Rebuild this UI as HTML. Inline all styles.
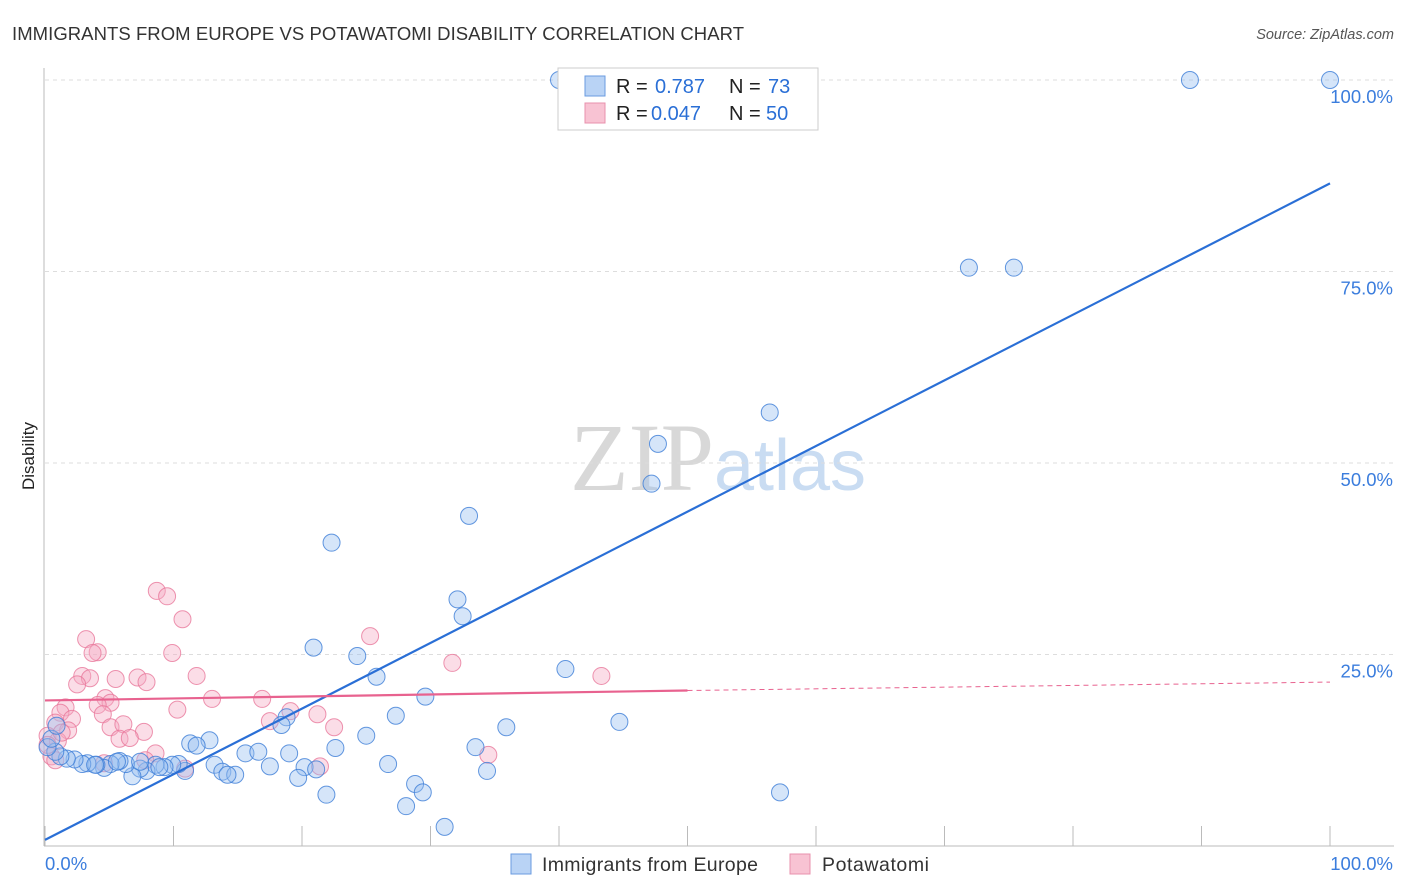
<!DOCTYPE html>
<html><head><meta charset="utf-8"><style>
body{margin:0;background:#fff;font-family:"Liberation Sans",sans-serif;}
svg{display:block}
</style></head><body>
<svg id="chart" width="1406" height="892">
<text x="12" y="40" font-size="18.5" fill="#333" textLength="732">IMMIGRANTS FROM EUROPE VS POTAWATOMI DISABILITY CORRELATION CHART</text>
<text x="1394" y="39" font-size="14.5" fill="#555" font-style="italic" text-anchor="end">Source: ZipAtlas.com</text>
<text x="34" y="456" font-size="17" fill="#222" text-anchor="middle" transform="rotate(-90 34 456)">Disability</text>
<text x="718" y="490" font-size="96" fill="#ddd" text-anchor="middle" font-family="Liberation Serif,serif"><tspan fill="#d8d8d8">ZIP</tspan><tspan fill="#c9dcf2" font-family="Liberation Sans,sans-serif" font-size="72">atlas</tspan></text>
<g id="grid"></g><g id="pts"></g><g id="lines"></g>
<g>
<rect x="558" y="68" width="260" height="62" fill="#fff" stroke="#ccc"/>
<rect x="585" y="76" width="20" height="20" fill="#b9d3f5" stroke="#6a9be0"/>
<rect x="585" y="103" width="20" height="20" fill="#f8c3d3" stroke="#e890ac"/>
<text x="616" y="93" font-size="20" fill="#222">R =</text><text x="655" y="93" font-size="20" fill="#2a6fd6">0.787</text>
<text x="729" y="93" font-size="20" fill="#222">N =</text><text x="768" y="93" font-size="20" fill="#2a6fd6">73</text>
<text x="616" y="120" font-size="20" fill="#222">R =</text><text x="651" y="120" font-size="20" fill="#2a6fd6">0.047</text>
<text x="729" y="120" font-size="20" fill="#222">N =</text><text x="766" y="120" font-size="20" fill="#2a6fd6">50</text>
</g>
<g>
<rect x="511" y="854" width="20" height="20" fill="#b9d3f5" stroke="#6a9be0"/>
<text x="542" y="871" font-size="19.5" fill="#333" textLength="216">Immigrants from Europe</text>
<rect x="790" y="854" width="20" height="20" fill="#f8c3d3" stroke="#e890ac"/>
<text x="822" y="871" font-size="19.5" fill="#333" textLength="107">Potawatomi</text>
</g>
</svg>
<script>
const yTicks=[25,50,75,100];
const xTickLabels=["0.0%","100.0%"];
const blueX=[40.0,89.1,100,71.9,75.4,56.4,47.7,47.2,33.0,22.3,32.1,32.5,20.9,24.3,40.5,25.8,29.6,27.3,18.8,18.4,44.7,35.9,25.0,33.5,22.6,12.8,11.3,11.8,15.6,16.6,19.0,26.7,34.4,20.2,21.1,17.5,13.2,13.8,14.8,14.2,10.9,10.4,9.9,9.3,8.6,7.9,7.4,6.8,6.3,5.8,5.1,4.6,4.0,3.3,2.9,2.3,1.7,1.2,0.8,0.2,0.5,0.9,19.7,28.8,29.4,21.9,28.1,31.1,57.2,3.9,8.9,5.6,7.4];
const blueY=[100,100,100,75.5,75.5,56.6,52.5,47.3,43.1,39.6,32.2,30.0,25.9,24.8,23.1,22.1,19.5,17.0,16.8,15.8,16.2,15.5,14.4,12.9,12.8,13.8,13.4,13.1,12.1,12.3,12.1,10.7,9.8,10.3,10.0,10.4,10.6,9.7,9.3,9.3,9.8,10.7,10.6,10.3,10.6,9.8,10.1,9.1,10.7,11.1,10.7,10.2,10.6,10.8,10.7,11.3,11.4,11.7,12.3,12.9,14.0,15.7,8.9,8.1,7.0,6.7,5.2,2.5,7.0,10.6,10.3,11.0,11.0];
const pinkX=[8.7,9.5,10.7,3.2,4.1,3.7,9.9,25.3,31.7,43.3,11.8,7.2,7.9,5.5,2.9,3.5,2.5,13.0,4.7,5.1,4.1,1.6,1.2,2.1,4.5,10.3,0.8,1.8,5.1,6.1,19.1,17.5,21.2,22.5,7.7,5.8,6.6,8.6,0.2,1.0,0.5,34.5,21.4,10.9,7.8,4.6,0.8,0.2,1.3,16.9];
const pinkY=[33.3,32.6,29.6,27.0,25.3,25.2,25.2,27.4,23.9,22.2,22.2,22.0,21.4,21.8,22.2,21.9,21.1,19.2,19.3,18.7,18.4,18.1,17.4,16.6,17.2,17.8,16.1,15.1,15.5,15.9,17.6,16.3,17.2,15.5,14.9,14.0,14.1,12.1,14.4,13.7,11.7,11.9,10.4,10.1,11.2,10.8,11.2,13.2,14.8,19.2];
const blueFit=[0.8,86.5];
const pinkFit=[19.0,20.3,21.4];
const X0=45,X1=1330,Y0=846,Y100=80;
const sx=v=>X0+(X1-X0)*v/100, sy=v=>Y0-(Y0-Y100)*v/100;
const NS="http://www.w3.org/2000/svg";
function mk(p,t,a){const e=document.createElementNS(NS,t);for(const k in a)e.setAttribute(k,a[k]);p.appendChild(e);return e;}
const g=document.getElementById('grid');
let ax=mk(g,'line',{x1:44,y1:68,x2:44,y2:846,stroke:'#bbb'});


let bx=mk(g,'line',{x1:44,y1:846,x2:1394,y2:846,stroke:'#bbb'});


yTicks.forEach(t=>{
 let l=mk(g,'line',{x1:45,x2:1394,y1:sy(t),y2:sy(t),stroke:'#ddd','stroke-dasharray':'4,4'});
 
 
 let tx=mk(g,'text',{x:1393,y:sy(t)+23,'font-size':18.5,fill:'#3b7ddd','text-anchor':'end'});tx.textContent=t.toFixed(1)+'%';
 
 
});
for(let i=0;i<=10;i++){let l=mk(g,'line',{x1:sx(i*10),x2:sx(i*10),y1:826,y2:846,stroke:'#bbb'});
 
 }
[[0,'start',45],[100,'end',1393]].forEach((d,i)=>{let t=mk(g,'text',{x:d[2],y:870,'font-size':18.5,fill:'#3b7ddd','text-anchor':d[1]});t.textContent=xTickLabels[i];
 
 });
const P=document.getElementById('pts');
pinkX.forEach((x,i)=>{let c=mk(P,'circle',{cx:sx(x),cy:sy(pinkY[i]),r:8.5,fill:'rgba(246,170,195,0.4)',stroke:'rgba(232,120,155,0.8)','stroke-width':1});
 
 });
blueX.forEach((x,i)=>{let c=mk(P,'circle',{cx:sx(x),cy:sy(blueY[i]),r:8.5,fill:'rgba(150,190,240,0.4)',stroke:'rgba(60,125,215,0.8)','stroke-width':1});
 
 });
const L=document.getElementById('lines');
let b=mk(L,'line',{x1:sx(0),y1:sy(blueFit[0]),x2:sx(100),y2:sy(blueFit[1]),stroke:'#2a6fd6','stroke-width':2.2});


let p=mk(L,'line',{x1:sx(0),y1:sy(pinkFit[0]),x2:sx(50),y2:sy(pinkFit[1]),stroke:'#e8628f','stroke-width':2.2});


let pd=mk(L,'line',{x1:sx(50),y1:sy(pinkFit[1]),x2:sx(100),y2:sy(pinkFit[2]),stroke:'#e8628f','stroke-width':1,'stroke-dasharray':'5,4'});


</script>
</body></html>
